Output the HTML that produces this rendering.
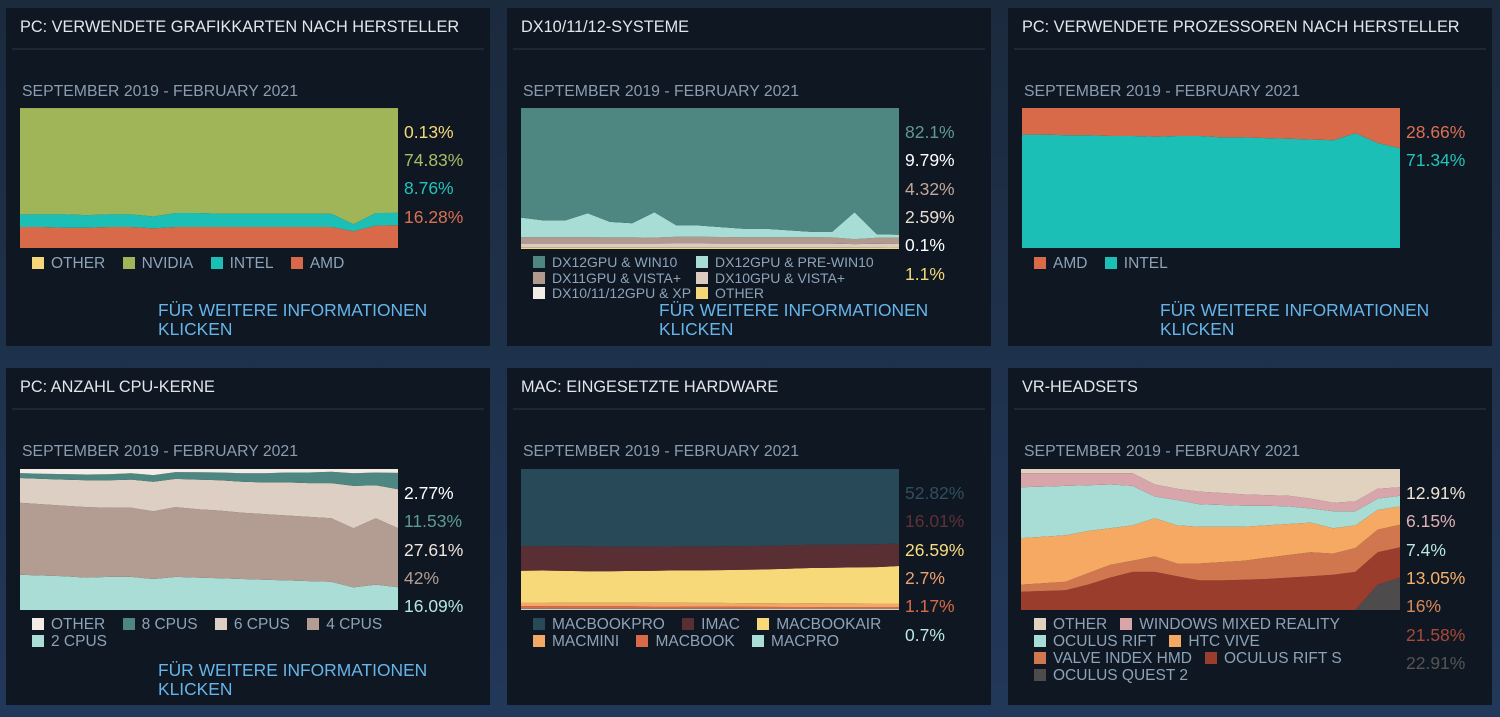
<!DOCTYPE html>
<html><head><meta charset="utf-8"><style>
body{margin:0;width:1500px;height:717px;overflow:hidden;background:linear-gradient(180deg,#1b2a3d,#22385a);font-family:"Liberation Sans",sans-serif;position:relative}
.panel{position:absolute;width:484px;height:338px;background:#0f1722;}
.title{position:absolute;left:14px;top:10px;font-size:16.3px;color:#e2e6ea}
.sep{position:absolute;left:6px;right:6px;top:40px;height:2px;background:#1c2836}
.sub{position:absolute;left:16px;top:75px;font-size:15.8px;color:#8a9db0}
.val{position:absolute;font-size:17.5px;}
.leg{position:absolute;font-size:15.5px;color:#8da3b8;white-space:nowrap;line-height:16px}
.leg span{display:inline-block;margin-right:13px}
.leg i{display:inline-block;width:12px;height:12px;margin-right:7px;vertical-align:-1px}
.link{position:absolute;left:152px;top:293px;font-size:17.4px;color:#66b5ea;line-height:19px}
svg{position:absolute;left:0;top:0}
</style></head><body>
<div class="panel" style="left:6px;top:8px">
 <div class="title">PC: VERWENDETE GRAFIKKARTEN NACH HERSTELLER</div><div class="sep"></div>
 <div class="sub">SEPTEMBER 2019 - FEBRUARY 2021</div>
 <svg id="c1" width="484" height="338"></svg>
 <div class="val" style="left:398px;top:114px;color:#f5d77a">0.13%</div>
 <div class="val" style="left:398px;top:142px;color:#a9bd63">74.83%</div>
 <div class="val" style="left:398px;top:170px;color:#22c4bb">8.76%</div>
 <div class="val" style="left:398px;top:199px;color:#dc7052">16.28%</div>
 <div class="leg" style="left:26px;top:248px"><span><i style="background:#f5d77a"></i>OTHER</span> <span><i style="background:#a0b558"></i>NVIDIA</span> <span><i style="background:#1bbfb5"></i>INTEL</span> <span><i style="background:#d86a4a"></i>AMD</span></div>
 <div class="link">FÜR WEITERE INFORMATIONEN<br>KLICKEN</div>
</div>
<div class="panel" style="left:507px;top:8px">
 <div class="title">DX10/11/12-SYSTEME</div><div class="sep"></div>
 <div class="sub">SEPTEMBER 2019 - FEBRUARY 2021</div>
 <svg id="c2" width="484" height="338"></svg>
 <div class="val" style="left:398px;top:114px;color:#5e9a94">82.1%</div>
 <div class="val" style="left:398px;top:142px;color:#fff">9.79%</div>
 <div class="val" style="left:398px;top:171px;color:#c0a89a">4.32%</div>
 <div class="val" style="left:398px;top:199px;color:#e8dcd2">2.59%</div>
 <div class="val" style="left:398px;top:227px;color:#fff">0.1%</div>
 <div class="val" style="left:398px;top:256px;color:#f5d77a">1.1%</div>
 <div class="leg" style="left:26px;top:247px;line-height:15.5px;font-size:14px">
  <span style="width:163px;margin-right:0"><i style="background:#4e8782"></i>DX12GPU &amp; WIN10</span><span><i style="background:#a8ddd6"></i>DX12GPU &amp; PRE-WIN10</span><br>
  <span style="width:163px;margin-right:0"><i style="background:#b09a8e"></i>DX11GPU &amp; VISTA+</span><span><i style="background:#dccbc0"></i>DX10GPU &amp; VISTA+</span><br>
  <span style="width:163px;margin-right:0"><i style="background:#f4ece6"></i>DX10/11/12GPU &amp; XP</span><span><i style="background:#f5d77a"></i>OTHER</span></div>
 <div class="link">FÜR WEITERE INFORMATIONEN<br>KLICKEN</div>
</div>
<div class="panel" style="left:1008px;top:8px">
 <div class="title">PC: VERWENDETE PROZESSOREN NACH HERSTELLER</div><div class="sep"></div>
 <div class="sub">SEPTEMBER 2019 - FEBRUARY 2021</div>
 <svg id="c3" width="484" height="338"></svg>
 <div class="val" style="left:398px;top:114px;color:#dc7052">28.66%</div>
 <div class="val" style="left:398px;top:142px;color:#22c4bb">71.34%</div>
 <div class="leg" style="left:26px;top:248px"><span><i style="background:#d86a4a"></i>AMD</span> <span><i style="background:#1bbfb5"></i>INTEL</span></div>
 <div class="link">FÜR WEITERE INFORMATIONEN<br>KLICKEN</div>
</div>
<div class="panel" style="left:6px;top:368px;height:337px">
 <div class="title">PC: ANZAHL CPU-KERNE</div><div class="sep"></div>
 <div class="sub">SEPTEMBER 2019 - FEBRUARY 2021</div>
 <svg id="c4" width="484" height="338"></svg>
 <div class="val" style="left:398px;top:115px;color:#fff">2.77%</div>
 <div class="val" style="left:398px;top:143px;color:#5e9a94">11.53%</div>
 <div class="val" style="left:398px;top:172px;color:#efe5dc">27.61%</div>
 <div class="val" style="left:398px;top:200px;color:#b39d92">42%</div>
 <div class="val" style="left:398px;top:228px;color:#b5e6df">16.09%</div>
 <div class="leg" style="left:26px;top:248px;line-height:17px"><span><i style="background:#f4ece6"></i>OTHER</span> <span><i style="background:#4e8782"></i>8 CPUS</span> <span><i style="background:#ddcfc3"></i>6 CPUS</span> <span><i style="background:#b39d92"></i>4 CPUS</span><br><span><i style="background:#a9ddd6"></i>2 CPUS</span></div>
 <div class="link">FÜR WEITERE INFORMATIONEN<br>KLICKEN</div>
</div>
<div class="panel" style="left:507px;top:368px;height:337px">
 <div class="title">MAC: EINGESETZTE HARDWARE</div><div class="sep"></div>
 <div class="sub">SEPTEMBER 2019 - FEBRUARY 2021</div>
 <svg id="c5" width="484" height="338"></svg>
 <div class="val" style="left:398px;top:115px;color:#2e4f5e">52.82%</div>
 <div class="val" style="left:398px;top:143px;color:#5c3236">16.01%</div>
 <div class="val" style="left:398px;top:172px;color:#f7dc80">26.59%</div>
 <div class="val" style="left:398px;top:200px;color:#f0a070">2.7%</div>
 <div class="val" style="left:398px;top:228px;color:#d86a4a">1.17%</div>
 <div class="val" style="left:398px;top:257px;color:#b9e8e2">0.7%</div>
 <div class="leg" style="left:26px;top:248px;line-height:17px"><span><i style="background:#284a58"></i>MACBOOKPRO</span> <span><i style="background:#5a2f33"></i>IMAC</span> <span><i style="background:#f7d97a"></i>MACBOOKAIR</span><br><span><i style="background:#f2a965"></i>MACMINI</span> <span><i style="background:#d86a4a"></i>MACBOOK</span> <span><i style="background:#a9ddd6"></i>MACPRO</span></div>
</div>
<div class="panel" style="left:1008px;top:368px;height:337px">
 <div class="title">VR-HEADSETS</div><div class="sep"></div>
 <div class="sub">SEPTEMBER 2019 - FEBRUARY 2021</div>
 <svg id="c6" width="484" height="338"></svg>
 <div class="val" style="left:398px;top:115px;color:#eee4d4">12.91%</div>
 <div class="val" style="left:398px;top:143px;color:#e0b0b5">6.15%</div>
 <div class="val" style="left:398px;top:172px;color:#b9e8e2">7.4%</div>
 <div class="val" style="left:398px;top:200px;color:#f5b06a">13.05%</div>
 <div class="val" style="left:398px;top:228px;color:#d9885a">16%</div>
 <div class="val" style="left:398px;top:257px;color:#a8493a">21.58%</div>
 <div class="val" style="left:398px;top:285px;color:#555">22.91%</div>
 <div class="leg" style="left:26px;top:248px;line-height:17px"><span><i style="background:#e0d2bf"></i>OTHER</span><span><i style="background:#d8a5ab"></i>WINDOWS MIXED REALITY</span><br><span><i style="background:#a8ddd6"></i>OCULUS RIFT</span><span><i style="background:#f5a962"></i>HTC VIVE</span><br><span><i style="background:#d1774f"></i>VALVE INDEX HMD</span><span><i style="background:#9a3d2d"></i>OCULUS RIFT S</span><br><span><i style="background:#4d4b4b"></i>OCULUS QUEST 2</span></div>
</div>
<script>
const months=["2019-09","2019-10","2019-11","2019-12","2020-01","2020-02","2020-03","2020-04","2020-05","2020-06","2020-07","2020-08","2020-09","2020-10","2020-11","2020-12","2021-01","2021-02"];
const gpuAmd=[15,15,14.5,14.5,15,15,14,15,15,15,15,15,15,15,15,12,16,16.3];
const gpuIntel=[9,9,9.5,9,9,9,8.5,10,10,9.5,9.5,9.5,9.5,9.5,9.5,5,9,8.8];
const gpuNvidia=[75.9,75.9,75.9,76.4,75.9,75.9,77.4,74.9,74.9,75.4,75.4,75.4,75.4,75.4,75.4,82.9,74.9,74.8];
const gpuOther=[0.1,0.1,0.1,0.1,0.1,0.1,0.1,0.1,0.1,0.1,0.1,0.1,0.1,0.1,0.1,0.1,0.1,0.1];
const dxOther=[1,1,1,1,1,1,1,1,1,1,1,1,1,1,1,1,1,1.1];
const dxXp=[0.3,0.3,0.3,0.3,0.3,0.3,0.3,0.3,0.3,0.2,0.2,0.2,0.2,0.2,0.2,0.1,0.1,0.1];
const dxDx10=[2.5,2.5,2.5,2.5,2.5,2.5,2.5,2.6,2.6,2.6,2.6,2.6,2.6,2.6,2.6,2.4,2.6,2.6];
const dxDx11=[4.5,4.5,4.5,4.5,4.4,4.4,4.3,4.8,4.8,4.7,4.6,4.6,4.5,4.5,4.4,3.5,4.3,4.3];
const dxPre=[14,12,12,17,11,10,18,8,8,7,6,6,5,4,4,19,2.5,2];
const dxWin10=[77.7,79.7,79.7,74.7,80.8,81.8,73.9,83.3,83.3,84.5,85.6,85.6,86.7,87.7,87.8,74,89.5,89.9];
const cpuIntel=[81,81,80.5,80.5,80,80,79.5,80,80,79,79,78.5,78,77.5,77,82,75,71.3];
const cpuAmd=[19,19,19.5,19.5,20,20,20.5,20,20,21,21,21.5,22,22.5,23,18,25,28.7];
const core2=[25,24.5,24,23,23.5,23.5,22,23.5,23,22.5,22,21.5,21,20.5,20,16,18,16.1];
const core4=[51,50.5,50,50,49,49,48,49.5,48.5,48,47,46.5,46,45.5,45,42,47,42];
const core6=[17.6,18,18.5,19,19.5,20,21,20,21,21.5,22,22.5,23.5,24,25,30,23.5,27.6];
const core8=[3.5,3.7,3.9,4.1,4.3,4.5,4.7,4.8,5.2,5.5,6,6.5,7,7.5,8,9,9,11.5];
const coreOther=[2.9,3.3,3.6,3.9,3.7,3,4.3,2.2,2.3,2.5,3,3,2.5,2.5,2,3,2.5,2.8];
const macPro=[0.8,0.8,0.8,0.8,0.8,0.8,0.8,0.8,0.8,0.8,0.8,0.7,0.7,0.7,0.7,0.7,0.7,0.7];
const macBook=[2,2,1.9,1.9,1.8,1.8,1.7,1.7,1.6,1.6,1.5,1.5,1.4,1.4,1.3,1.3,1.2,1.2];
const macMini=[2.5,2.5,2.5,2.5,2.5,2.5,2.6,2.6,2.6,2.6,2.6,2.6,2.6,2.7,2.7,2.7,2.7,2.7];
const macAir=[22.5,22.7,22.5,22.3,22.4,22.6,22.8,23,23.1,23.3,23.6,24,24.5,25,25.2,25.5,25.8,26.6];
const macImac=[17.5,17.3,17.5,17.7,17.4,17.2,17.1,17,17,16.9,16.8,16.7,16.6,16.5,16.4,16.3,16.1,16];
const macBookPro=[54.7,54.7,54.8,54.8,55.1,55.1,55,54.9,54.9,54.8,54.7,54.5,54.2,53.7,53.7,53.5,53.5,52.8];
const vrQuest=[0,0,0,0,0,0,0,0,0,0,0,0,0,0,0,0,18,23];
const vrRiftS=[13,13.5,14,18,23,27,27,24,21,21,21.5,22,23,24,25,27,23,21.5];
const vrIndex=[5,5.5,6,8,9,8,11,9,12,13,13.5,15,16,17,15,17,16,16];
const vrVive=[33,33,33,30,26,25,27,27,26,25,24,23,22,21,18,16,14,13];
const vrRift=[36,35.5,35,32.5,31,28,15.5,18,16,15.5,15,14,12.5,10,12,10,8,7.5];
const vrWmr=[10,9.5,9,8.5,8,9,8.5,8,9,8.5,8,7.5,7.5,7,6,7,7,6];
const vrOther=[3,3,3,3,3,3,11,14,16,17,18,18.5,19,21,24,23,14,13];

function draw(id,x0,x1,y0,y1,layers,names){
  const svg=document.getElementById(id);const ns="http://www.w3.org/2000/svg";
  const n=months.length;
  const xs=i=>x0+(x1-x0)*i/(n-1);
  const tot=months.map((m,i)=>layers.reduce((s,l)=>s+l[0][i],0));
  const ys=v=>y1-(y1-y0)*v/100;
  let base=months.map(()=>0);
  layers.forEach((l,k)=>{
    const top=base.map((b,i)=>b+l[0][i]*100/tot[i]);
    let pts=[];
    for(let i=0;i<n;i++)pts.push(xs(i).toFixed(1)+","+ys(top[i]).toFixed(1));
    for(let i=n-1;i>=0;i--)pts.push(xs(i).toFixed(1)+","+ys(base[i]).toFixed(1));
    const p=document.createElementNS(ns,"polygon");
    p.setAttribute("points",pts.join(" "));
    p.setAttribute("fill",l[1]);
    
    
    svg.appendChild(p);
    base=top;
  });
}
draw("c1",14,392,100,240,[[gpuAmd,"#d86a4a"],[gpuIntel,"#1bbfb5"],[gpuNvidia,"#a0b558"],[gpuOther,"#f5d77a"]],["area-amd","area-intel","area-nvidia","area-other"]);
draw("c2",14,392,100,241,[[dxOther,"#f5d77a"],[dxXp,"#f4ece6"],[dxDx10,"#dccbc0"],[dxDx11,"#b09a8e"],[dxPre,"#a8ddd6"],[dxWin10,"#4e8782"]],["area-other","area-dx-xp","area-dx10","area-dx11","area-dx12-prewin10","area-dx12-win10"]);
draw("c3",14,392,100,240,[[cpuIntel,"#1bbfb5"],[cpuAmd,"#d86a4a"]],["area-intel","area-amd"]);
draw("c4",14,392,101,242,[[core2,"#a9ddd6"],[core4,"#b39d92"],[core6,"#ddcfc3"],[core8,"#4e8782"],[coreOther,"#f4ece6"]],["area-2cpus","area-4cpus","area-6cpus","area-8cpus","area-other"]);
draw("c5",14,392,101,242,[[macPro,"#a9ddd6"],[macBook,"#d86a4a"],[macMini,"#f2a965"],[macAir,"#f7d97a"],[macImac,"#5a2f33"],[macBookPro,"#284a58"]],["area-macpro","area-macbook","area-macmini","area-macbookair","area-imac","area-macbookpro"]);
draw("c6",13,392,101,242,[[vrQuest,"#4d4b4b"],[vrRiftS,"#9a3d2d"],[vrIndex,"#d1774f"],[vrVive,"#f5a962"],[vrRift,"#a8ddd6"],[vrWmr,"#d8a5ab"],[vrOther,"#e0d2bf"]],["area-quest2","area-rift-s","area-valve-index","area-htc-vive","area-oculus-rift","area-wmr","area-other"]);
</script>
</body></html>
